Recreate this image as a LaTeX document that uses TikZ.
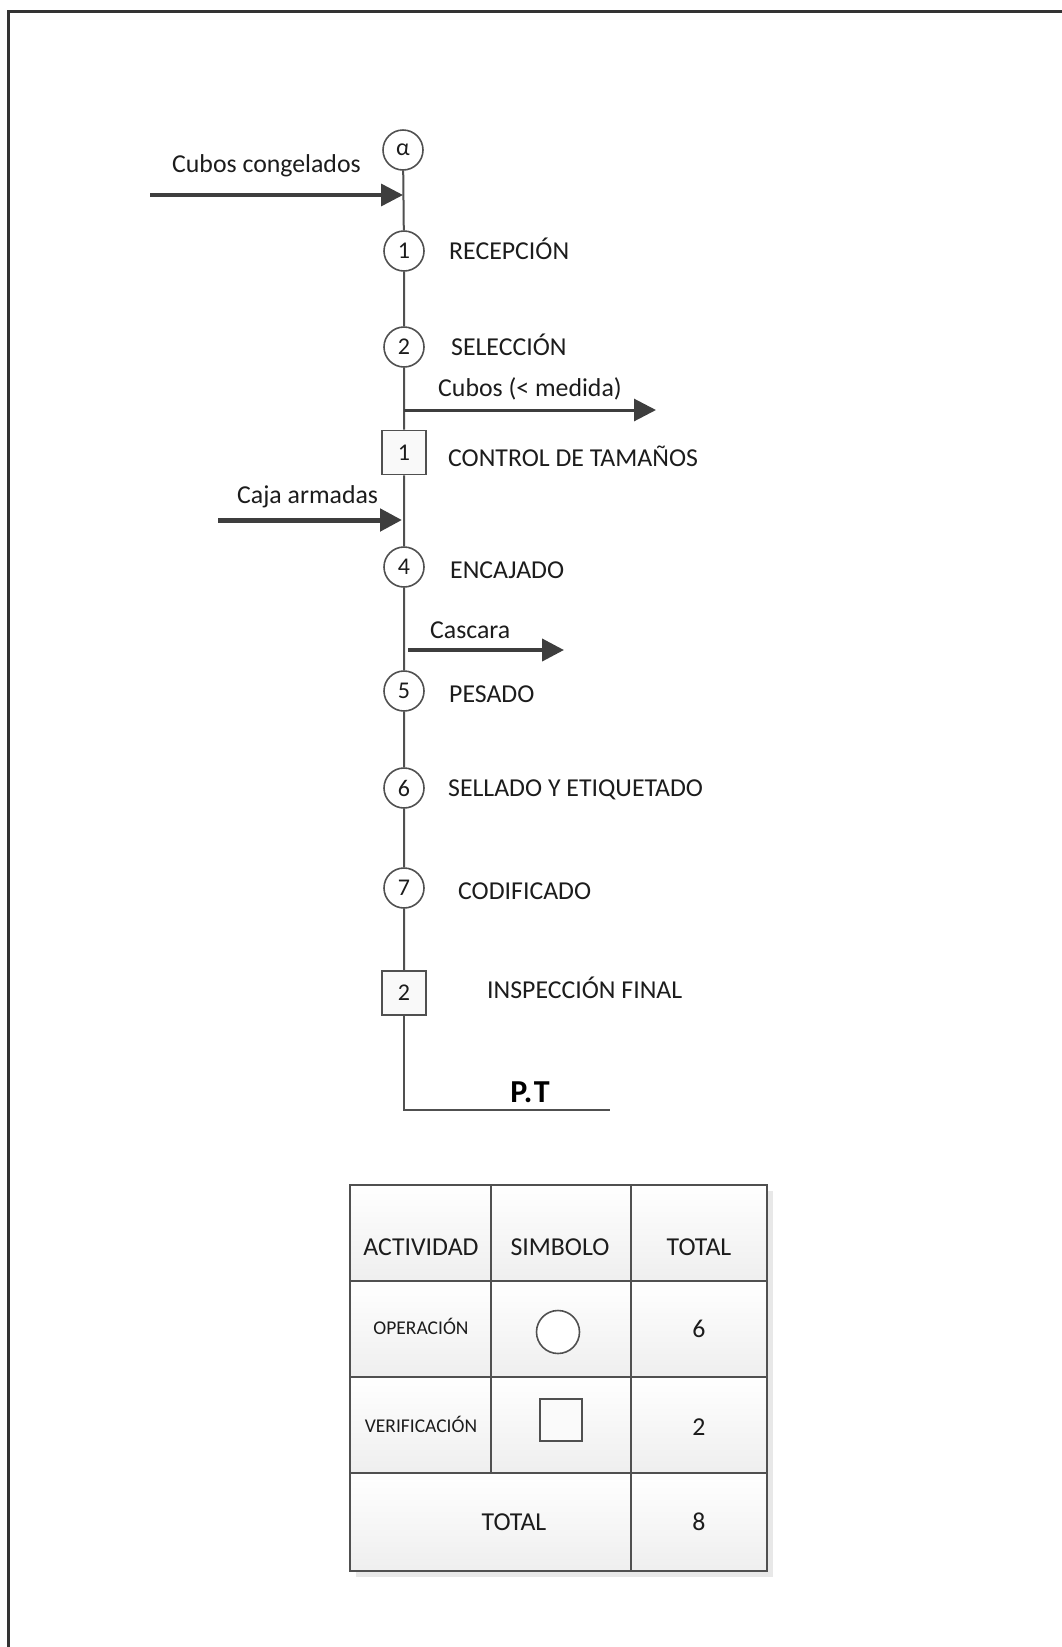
\documentclass[tikz,border=0pt]{standalone}
\usepackage{fontspec}
\setmainfont{Carlito}
\usetikzlibrary{arrows.meta}
\definecolor{ln}{RGB}{80,80,80}
\definecolor{ar}{RGB}{62,62,62}
\definecolor{tx}{RGB}{28,28,28}
\tikzset{
  op/.style={circle, draw=ln, line width=1.6pt, fill=white, minimum size=40pt, inner sep=0pt, font=\fontsize{24}{28}\selectfont, text=tx},
  insp/.style={rectangle, draw=ln, line width=1.6pt, fill=gray!5, minimum size=44pt, inner sep=0pt, font=\fontsize{24}{28}\selectfont, text=tx},
  lbl/.style={anchor=west, inner sep=0pt, text height=16.6pt, text depth=0pt, font=\fontsize{25.8}{30}\selectfont, text=tx},
  ctr/.style={inner sep=0pt, text height=16.6pt, text depth=0pt, font=\fontsize{25.8}{30}\selectfont, text=tx},
  sml/.style={inner sep=0pt, text height=12.6pt, text depth=0pt, font=\fontsize{19.5}{23}\selectfont, text=tx},
  flow/.style={draw=ln, line width=2pt},
  arr/.style={draw=ar, line width=#1, -{Triangle[length=22pt,width=22pt]}},
  arr/.default=3.5pt,
  cellbox/.style={draw=ln, line width=2pt, top color=white, bottom color=gray!13, inner sep=0pt}
}
\begin{document}
\begin{tikzpicture}[x=1pt,y=-1pt]
\useasboundingbox (0,0) rectangle (1062,1647);
% frame (top and left only)
\coordinate (fbl) at (8.5,1647);
\coordinate (ftl) at (8.5,11);
\coordinate (ftr) at (1062,11);
\draw[draw=black!80, line width=3pt] (fbl) -- (ftl) -- (ftr);

% process symbols
\node[op] (alpha) at (403,150) {α};
\node[op] (c1) at (404,251) {1};
\node[op] (c2) at (404,347) {2};
\node[insp] (s1) at (404,452.5) {1};
\node[op] (c4) at (404,567) {4};
\node[op] (c5) at (404,691) {5};
\node[op] (c6) at (404,788) {6};
\node[op] (c7) at (404,888) {7};
\node[insp] (s2) at (404,993) {2};
\coordinate (ptend) at (610,1110);

% main flow line
\draw[flow] (alpha) -- (c1) -- (c2) -- (s1) -- (c4) -- (c5) -- (c6) -- (c7) -- (s2);
\draw[flow] (s2) |- (ptend);

% labels
\node[lbl] (l1) at (449,251) {RECEPCIÓN};
\node[lbl] (l2) at (451,347) {SELECCIÓN};
\node[lbl] (ls1) at (448,458) {CONTROL DE TAMAÑOS};
\node[lbl] (l4) at (450,570) {ENCAJADO};
\node[lbl] (l5) at (449,694) {PESADO};
\node[lbl] (l6) at (448,788) {SELLADO Y ETIQUETADO};
\node[lbl] (l7) at (458,891) {CODIFICADO};
\node[lbl] (ls2) at (487,990) {INSPECCIÓN FINAL};
\node[inner sep=0pt, text height=20pt, text depth=0pt, font=\fontsize{32}{36}\bfseries, text=black] (pt) at (530,1092) {P.\kern1.5pt T};

% inputs and outputs
\coordinate (in1s) at (150,195);
\coordinate (in1e) at (403,195);
\draw[arr=3.5pt] (in1s) -- (in1e);
\node[lbl] (in1l) at (172,164) {Cubos congelados};

\coordinate (out1s) at (404,410);
\coordinate (out1e) at (656,410);
\draw[arr=3pt] (out1s) -- (out1e);
\node[lbl] (out1l) at (438,388) {Cubos (< medida)};

\coordinate (in2s) at (218,520);
\coordinate (in2e) at (402,520);
\draw[arr=5pt] (in2s) -- (in2e);
\node[lbl] (in2l) at (237,495) {Caja armadas};

\coordinate (out2s) at (408,650);
\coordinate (out2e) at (564,650);
\draw[arr=4pt] (out2s) -- (out2e);
\node[lbl] (out2l) at (430,630) {Cascara};

% summary table
\fill[gray!18] (356,1191) rectangle (773,1577);
\node[cellbox, minimum width=141pt, minimum height=96pt] (t11) at (420.5,1233) {};
\node[cellbox, minimum width=140pt, minimum height=96pt] (t12) at (561,1233) {};
\node[cellbox, minimum width=136pt, minimum height=96pt] (t13) at (699,1233) {};
\node[cellbox, minimum width=141pt, minimum height=96pt] (t21) at (420.5,1329) {};
\node[cellbox, minimum width=140pt, minimum height=96pt] (t22) at (561,1329) {};
\node[cellbox, minimum width=136pt, minimum height=96pt] (t23) at (699,1329) {};
\node[cellbox, minimum width=141pt, minimum height=96pt] (t31) at (420.5,1425) {};
\node[cellbox, minimum width=140pt, minimum height=96pt] (t32) at (561,1425) {};
\node[cellbox, minimum width=136pt, minimum height=96pt] (t33) at (699,1425) {};
\node[cellbox, minimum width=281pt, minimum height=98pt] (t41) at (490.5,1522) {};
\node[cellbox, minimum width=136pt, minimum height=98pt] (t43) at (699,1522) {};

\node[ctr] (h1) at (421,1247) {ACTIVIDAD};
\node[ctr] (h2) at (560,1247) {SIMBOLO};
\node[ctr] (h3) at (699,1247) {TOTAL};
\node[sml] (r1a) at (421,1328) {OPERACIÓN};
\node[op, minimum size=43pt] (r1b) at (558,1332) {};
\node[ctr] (r1c) at (699,1329) {6};
\node[sml] (r2a) at (421,1426) {VERIFICACIÓN};
\node[insp, minimum size=42pt, fill=gray!4] (r2b) at (561,1420) {};
\node[ctr] (r2c) at (699,1427) {2};
\node[ctr] (r3a) at (514,1522) {TOTAL};
\node[ctr] (r3c) at (699,1522) {8};
\end{tikzpicture}
\end{document}
